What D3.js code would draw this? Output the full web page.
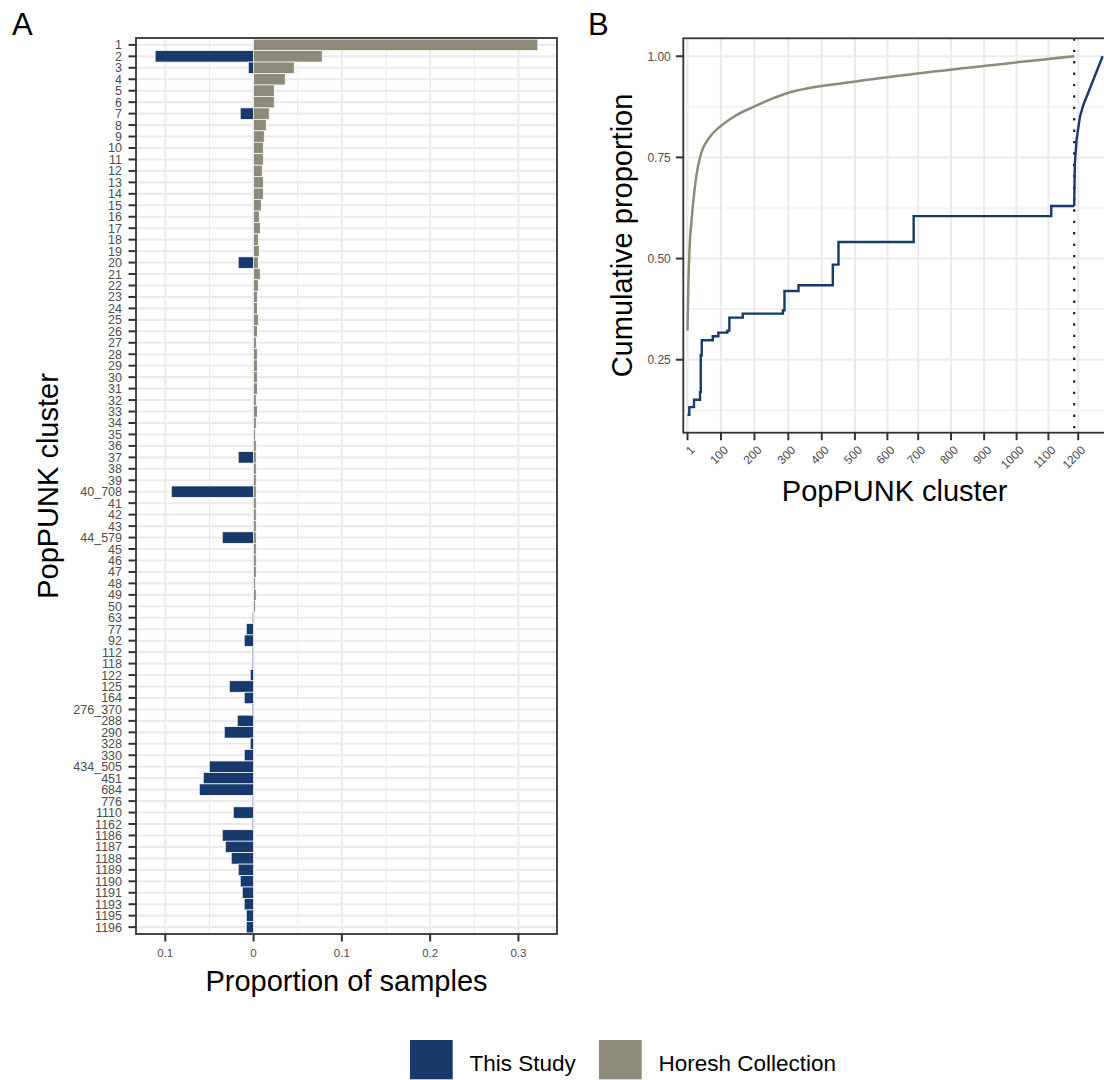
<!DOCTYPE html>
<html>
<head>
<meta charset="utf-8">
<script src="https://cdnjs.cloudflare.com/ajax/libs/d3/7.8.5/d3.min.js"></script>
<style>
  body { margin: 0; background: #fff; }
  svg { font-family: "Liberation Sans", Arial, Helvetica, sans-serif; }
  .tick-label { fill: #4d4d4d; }
</style>
</head>
<body>
<svg width="1104" height="1080"></svg>
<script>
// ---- data ----
var clusters = ["1","2","3","4","5","6","7","8","9","10","11","12","13","14","15","16","17","18","19","20",
  "21","22","23","24","25","26","27","28","29","30","31","32","33","34","35","36","37","38","39","40_708",
  "41","42","43","44_579","45","46","47","48","49","50","63","77","92","112","118","122","125","164",
  "276_370","288","290","328","330","434_505","451","684","776","1110","1162","1186","1187","1188",
  "1189","1190","1191","1193","1195","1196"];

// proportion of samples, Horesh collection (drawn to the right)
var horesh = [0.322, 0.0777, 0.046, 0.0358, 0.0234, 0.0234, 0.0177, 0.0143, 0.0121, 0.011,
  0.011, 0.0098, 0.011, 0.011, 0.0087, 0.0064, 0.0075, 0.0053, 0.0064, 0.0053,
  0.0075, 0.0053, 0.0042, 0.0042, 0.0053, 0.0042, 0.003, 0.0042, 0.0042, 0.0042,
  0.0042, 0.003, 0.0042, 0.003, 0.002, 0.003, 0.003, 0.003, 0.003, 0.003,
  0.003, 0.003, 0.003, 0.003, 0.003, 0.003, 0.003, 0.002, 0.003, 0.002,
  0.001, 0.0004, 0.0004, 0.0004, 0.0004, 0.0004, 0.0004, 0.0004, 0.0004, 0.0004,
  0.0004, 0.0004, 0.0004, 0.0004, 0.0004, 0.0004, 0.0004, 0.0004, 0.0004, 0.0004,
  0.0004, 0.0004, 0.0004, 0.0004, 0.0004, 0.0004, 0.0004, 0.0004];

// proportion of samples, this study (drawn to the left)
var thisStudy = [0, 0.1115, 0.006, 0, 0, 0, 0.0151, 0, 0, 0,
  0, 0, 0, 0, 0, 0, 0, 0, 0, 0.0174,
  0, 0, 0, 0, 0, 0, 0, 0, 0, 0,
  0, 0, 0, 0, 0, 0, 0.0174, 0, 0, 0.0932,
  0, 0, 0, 0.0355, 0, 0, 0, 0, 0, 0,
  0.0015, 0.0083, 0.0106, 0.0015, 0.0015, 0.0038, 0.0275, 0.0106, 0.0015, 0.0185,
  0.0332, 0.0038, 0.0106, 0.0502, 0.057, 0.0615, 0.0015, 0.023, 0.0015, 0.0355,
  0.032, 0.0253, 0.0174, 0.0151, 0.0128, 0.0106, 0.0083, 0.0083];

var propTicks = [-0.1, 0, 0.1, 0.2, 0.3];
var propMinor = [-0.05, 0.05, 0.15, 0.25];

// panel B: cumulative proportion against cluster rank
var studySteps = [[1,0.114],[6.4,0.133],[20.4,0.151],[38.4,0.170],[40.5,0.261],[43.5,0.298],
  [76.4,0.308],[93.1,0.317],[120,0.322],[126,0.354],[166,0.364],[286,0.372],[290.6,0.420],
  [332.5,0.434],[435,0.485],[452,0.541],[676.5,0.605],[1087.5,0.630],[1156,0.630]];
var studyTail = [[1156,0.630],[1158,0.735],[1163,0.793],[1173,0.850],[1183,0.879],[1241,1.0]];
var horeshCum = [[1,0.322],[3.4,0.43],[6.4,0.512],[13.6,0.60],[20,0.655],[28.5,0.71],[38.4,0.75],
  [68.3,0.801],[98.2,0.826],[138,0.85],[198,0.875],[297.7,0.9085],[497,0.937],[736,0.962],[1156,1.0]];
var lastHoresh = 1156;

var rankTickLabels = ["1","100","200","300","400","500","600","700","800","900","1000","1100","1200"];
var rankTickPos = [1, 101, 201, 302, 402, 501, 598, 690, 788, 887, 984, 1079, 1168];
var cumTicks = [0.25, 0.5, 0.75, 1.0];
var cumMinor = [0.125, 0.375, 0.625, 0.875];

var blue = "#17396b", grey = "#8d8a79";
var grid = "#ebebeb", border = "#333333";

var svg = d3.select("svg");

// ---------- panel A ----------
var A = {left: 136, right: 557, top: 38, bottom: 934};

var lo = -d3.max(thisStudy), hi = d3.max(horesh);
var pad = (hi - lo) * 0.05;
var x = d3.scaleLinear().domain([lo - pad, hi + pad]).range([A.left, A.right]);
var y = d3.scalePoint().domain(clusters).range([A.top, A.bottom]).padding(0.6);
var step = y.step();

var gA = svg.append("g");
gA.selectAll(".minor").data(propMinor).enter().append("line")
  .attr("x1", function(d) { return x(d); }).attr("x2", function(d) { return x(d); })
  .attr("y1", A.top).attr("y2", A.bottom)
  .attr("stroke", grid).attr("stroke-width", 1.1);
gA.selectAll(".vmajor").data(propTicks).enter().append("line")
  .attr("x1", function(d) { return x(d); }).attr("x2", function(d) { return x(d); })
  .attr("y1", A.top).attr("y2", A.bottom)
  .attr("stroke", grid).attr("stroke-width", 2.1);
gA.selectAll(".hmajor").data(clusters).enter().append("line")
  .attr("x1", A.left).attr("x2", A.right)
  .attr("y1", function(d) { return y(d); }).attr("y2", function(d) { return y(d); })
  .attr("stroke", grid).attr("stroke-width", 2.1);

gA.selectAll(".hbar").data(clusters).enter().append("rect")
  .attr("x", x(0))
  .attr("y", function(d) { return y(d) - step / 2; })
  .attr("width", function(d, i) { return x(horesh[i]) - x(0); })
  .attr("height", step)
  .attr("fill", grey).attr("stroke", "#fff").attr("stroke-width", 0.7);
gA.selectAll(".sbar").data(clusters).enter().append("rect")
  .attr("x", function(d, i) { return x(-thisStudy[i]); })
  .attr("y", function(d) { return y(d) - step / 2; })
  .attr("width", function(d, i) { return x(0) - x(-thisStudy[i]); })
  .attr("height", step)
  .attr("fill", blue).attr("stroke", "#fff").attr("stroke-width", 0.7)
  .style("display", function(d, i) { return thisStudy[i] > 0 ? null : "none"; });

gA.append("rect").attr("x", A.left).attr("y", A.top)
  .attr("width", A.right - A.left).attr("height", A.bottom - A.top)
  .attr("fill", "none").attr("stroke", border).attr("stroke-width", 1.8);

// y axis (clusters)
gA.selectAll(".ytick").data(clusters).enter().append("line")
  .attr("x1", A.left - 7.5).attr("x2", A.left)
  .attr("y1", function(d) { return y(d); }).attr("y2", function(d) { return y(d); })
  .attr("stroke", border).attr("stroke-width", 2);
gA.selectAll(".ylab").data(clusters).enter().append("text")
  .attr("class", "tick-label")
  .attr("x", A.left - 14).attr("y", function(d) { return y(d); })
  .attr("dy", "0.36em").attr("text-anchor", "end")
  .style("font-size", "12.5px")
  .text(function(d) { return d; });

// x axis (proportion), labels shown as absolute values
gA.selectAll(".xtick").data(propTicks).enter().append("line")
  .attr("x1", function(d) { return x(d); }).attr("x2", function(d) { return x(d); })
  .attr("y1", A.bottom).attr("y2", A.bottom + 7.5)
  .attr("stroke", border).attr("stroke-width", 2);
gA.selectAll(".xlab").data(propTicks).enter().append("text")
  .attr("class", "tick-label")
  .attr("x", function(d) { return x(d); }).attr("y", A.bottom + 23)
  .attr("text-anchor", "middle").style("font-size", "11.5px")
  .text(function(d) { return d3.format("")(Math.abs(d)); });

gA.append("text")
  .attr("x", (A.left + A.right) / 2).attr("y", 991)
  .attr("text-anchor", "middle").style("font-size", "29px")
  .text("Proportion of samples");
gA.append("text")
  .attr("transform", "translate(58," + (A.top + A.bottom) / 2 + ") rotate(-90)")
  .attr("text-anchor", "middle").style("font-size", "29px")
  .text("PopPUNK cluster");
svg.append("text").attr("x", 12).attr("y", 34.5).style("font-size", "31px").text("A");

// ---------- panel B ----------
var B = {left: 683.3, right: 1106, top: 38.3, bottom: 432.7};

var yv = [d3.min(studySteps, function(d) { return d[1]; }), 1];
var ypad = (yv[1] - yv[0]) * 0.05;
var xr = d3.scaleLinear().domain([-11.6, 1251]).range([B.left, B.right]);
var yc = d3.scaleLinear().domain([yv[0] - ypad, yv[1] + ypad]).range([B.bottom, B.top]);

var gB = svg.append("g");
gB.selectAll(".cminor").data(cumMinor).enter().append("line")
  .attr("x1", B.left).attr("x2", B.right)
  .attr("y1", function(d) { return yc(d); }).attr("y2", function(d) { return yc(d); })
  .attr("stroke", grid).attr("stroke-width", 1.1);
gB.selectAll(".cmajor").data(cumTicks).enter().append("line")
  .attr("x1", B.left).attr("x2", B.right)
  .attr("y1", function(d) { return yc(d); }).attr("y2", function(d) { return yc(d); })
  .attr("stroke", grid).attr("stroke-width", 2.1);
gB.selectAll(".rmajor").data(rankTickPos).enter().append("line")
  .attr("x1", function(d) { return xr(d); }).attr("x2", function(d) { return xr(d); })
  .attr("y1", B.top).attr("y2", B.bottom)
  .attr("stroke", grid).attr("stroke-width", 2.1);

gB.append("line")
  .attr("x1", xr(lastHoresh)).attr("x2", xr(lastHoresh))
  .attr("y1", B.top).attr("y2", B.bottom)
  .attr("stroke", "#222").attr("stroke-width", 2.2)
  .attr("stroke-dasharray", "2.4 9");

var lineFn = d3.line()
  .x(function(d) { return xr(d[0]); })
  .y(function(d) { return yc(d[1]); });

gB.append("path").datum(horeshCum)
  .attr("d", lineFn.curve(d3.curveMonotoneX))
  .attr("fill", "none").attr("stroke", grey).attr("stroke-width", 2.5);
gB.append("path").datum(studySteps)
  .attr("d", lineFn.curve(d3.curveStepAfter))
  .attr("fill", "none").attr("stroke", blue).attr("stroke-width", 2.4);
gB.append("path").datum(studyTail)
  .attr("d", lineFn.curve(d3.curveLinear))
  .attr("fill", "none").attr("stroke", blue).attr("stroke-width", 2.4);

gB.append("rect").attr("x", B.left).attr("y", B.top)
  .attr("width", B.right - B.left).attr("height", B.bottom - B.top)
  .attr("fill", "none").attr("stroke", border).attr("stroke-width", 1.8);

gB.selectAll(".cytick").data(cumTicks).enter().append("line")
  .attr("x1", B.left - 7.5).attr("x2", B.left)
  .attr("y1", function(d) { return yc(d); }).attr("y2", function(d) { return yc(d); })
  .attr("stroke", border).attr("stroke-width", 2);
gB.selectAll(".cylab").data(cumTicks).enter().append("text")
  .attr("class", "tick-label")
  .attr("x", B.left - 12.5).attr("y", function(d) { return yc(d); })
  .attr("dy", "0.36em").attr("text-anchor", "end").style("font-size", "12px")
  .text(function(d) { return d3.format(".2f")(d); });

gB.selectAll(".rxtick").data(rankTickPos).enter().append("line")
  .attr("x1", function(d) { return xr(d); }).attr("x2", function(d) { return xr(d); })
  .attr("y1", B.bottom).attr("y2", B.bottom + 7.5)
  .attr("stroke", border).attr("stroke-width", 2);
gB.selectAll(".rxlab").data(rankTickPos).enter().append("text")
  .attr("class", "tick-label")
  .attr("transform", function(d) { return "translate(" + (xr(d) + 5) + "," + (B.bottom + 15) + ") rotate(-45)"; })
  .attr("dy", "0.36em").attr("text-anchor", "end").style("font-size", "12px")
  .text(function(d, i) { return rankTickLabels[i]; });

gB.append("text")
  .attr("x", (B.left + B.right) / 2).attr("y", 500.5)
  .attr("text-anchor", "middle").style("font-size", "29px")
  .text("PopPUNK cluster");
gB.append("text")
  .attr("transform", "translate(632," + (B.top + B.bottom) / 2 + ") rotate(-90)")
  .attr("text-anchor", "middle").style("font-size", "29px")
  .text("Cumulative proportion");
svg.append("text").attr("x", 588).attr("y", 34.5).style("font-size", "31px").text("B");

// ---------- legend ----------
var legendItems = [{name: "This Study", color: blue, x: 410}, {name: "Horesh Collection", color: grey, x: 599}];
var lg = svg.append("g").selectAll("g").data(legendItems).enter().append("g")
  .attr("transform", function(d) { return "translate(" + d.x + ",1040)"; });
lg.append("rect").attr("width", 42.7).attr("height", 39.3).attr("fill", function(d) { return d.color; });
lg.append("text").attr("x", 59.5).attr("y", 30.7).style("font-size", "22.5px")
  .text(function(d) { return d.name; });
</script>
</body>
</html>
